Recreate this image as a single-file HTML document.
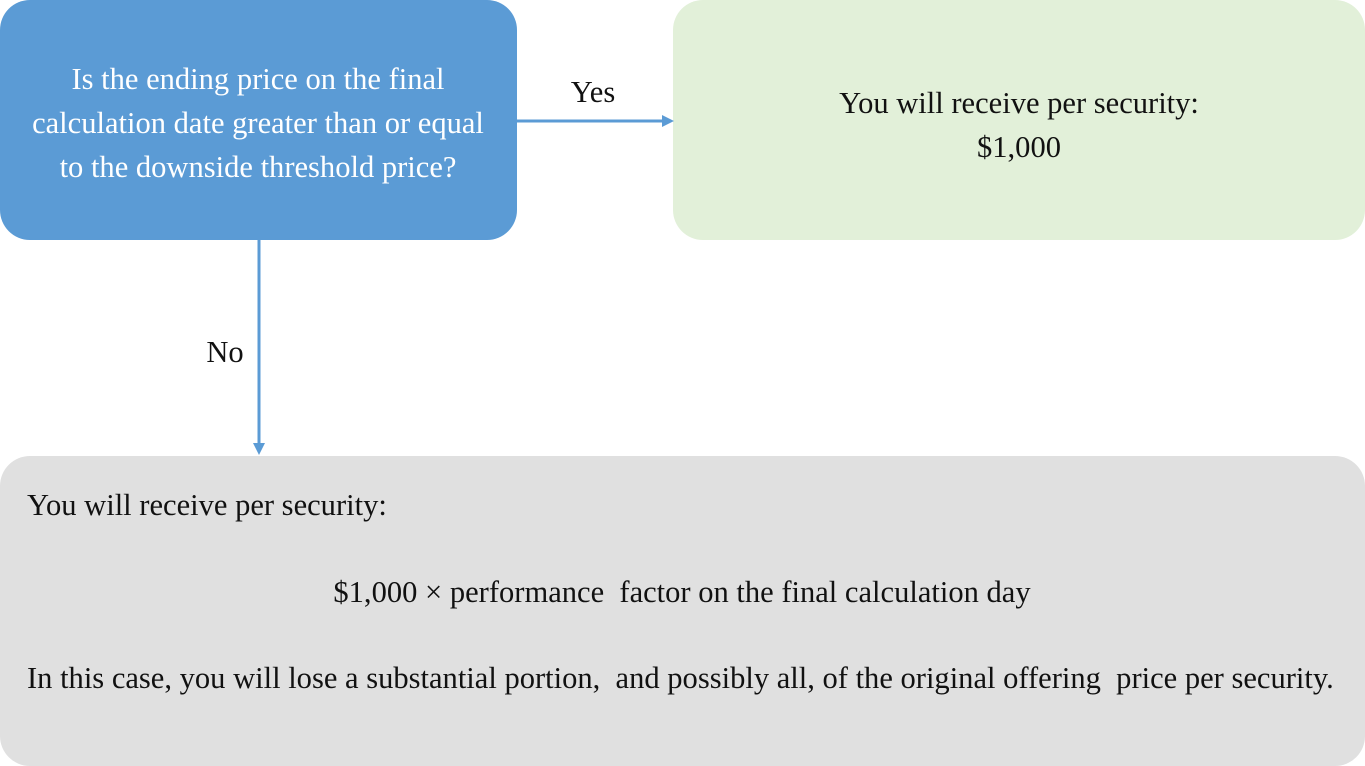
<!DOCTYPE html>
<html><head><style>
body{margin:0;width:1365px;height:766px;background:#fff;position:relative;overflow:hidden;font-family:"Liberation Serif",serif;}
.box{position:absolute;border-radius:30px;}
.t{position:absolute;white-space:nowrap;font-size:31px;line-height:44px;transform:scaleX(0.985);}
.c{transform-origin:center;text-align:center;width:800px;}
.l{transform-origin:left;}
</style></head><body>
<div class="box" style="left:0;top:0;width:517px;height:240px;background:#5b9bd5;"></div>
<div class="box" style="left:673px;top:0;width:692px;height:240px;background:#e2f0d9;"></div>
<div class="box" style="left:0;top:456px;width:1365px;height:310px;background:#e0e0e0;"></div>
<svg style="position:absolute;left:0;top:0" width="1365" height="766">
<line x1="517" y1="121" x2="664" y2="121" stroke="#5b9bd5" stroke-width="3"/>
<polygon points="674,121 662,115 662,127" fill="#5b9bd5"/>
<line x1="259" y1="240" x2="259" y2="445" stroke="#5b9bd5" stroke-width="3"/>
<polygon points="259,455 253,443 265,443" fill="#5b9bd5"/>
</svg>
<div class="t c" style="left:-142px;top:57px;color:#fff;">Is the ending price on the final<br>calculation date greater than or equal<br>to the downside threshold price?</div>
<div class="t c" style="left:619px;top:81px;color:#111;">You will receive per security:<br>$1,000</div>
<div class="t c" style="left:193px;top:70px;color:#111;">Yes</div>
<div class="t c" style="left:-175px;top:330px;color:#111;">No</div>
<div class="t l" style="left:27px;top:483px;color:#111;">You will receive per security:</div>
<div class="t c" style="left:282px;top:570px;color:#111;">$1,000 × performance&nbsp; factor on the final calculation day</div>
<div class="t l" style="left:27px;top:656px;color:#111;">In this case, you will lose a substantial portion,&nbsp; and possibly all, of the original offering&nbsp; price per security.</div>
</body></html>
